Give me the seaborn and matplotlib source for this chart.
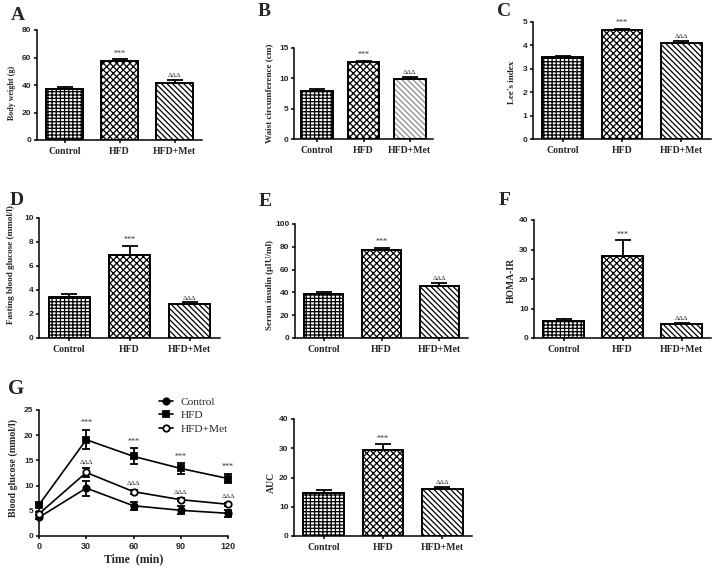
import numpy as np
import pandas as pd
import matplotlib
matplotlib.use('Agg')
import matplotlib.pyplot as plt
import seaborn as sns

# ---------------- data ----------------
groups = ['Control', 'HFD', 'HFD+Met']
sig_marks = ['', '***', 'ΔΔΔ']

body_weight = [37.1, 57.5, 41.8]
body_weight_err = [1.2, 1.2, 2.2]
waist = [7.95, 12.65, 9.85]
waist_err = [0.28, 0.22, 0.38]
lee_index = [3.51, 4.65, 4.11]
lee_index_err = [0.05, 0.06, 0.08]
fasting_glucose = [3.4, 6.95, 2.82]
fasting_glucose_err = [0.28, 0.72, 0.15]
insulin = [38.9, 76.9, 45.3]
insulin_err = [1.5, 2.0, 2.9]
homa_ir = [5.9, 27.9, 4.6]
homa_ir_err = [0.45, 5.3, 0.55]
auc = [14.7, 29.4, 16.0]
auc_err = [0.9, 2.0, 0.9]

time_min = [0, 30, 60, 90, 120]
ogtt_control = [3.7, 9.5, 6.0, 5.1, 4.5]
ogtt_control_err = [0.4, 1.5, 0.8, 0.8, 0.7]
ogtt_hfd = [6.2, 19.1, 15.8, 13.4, 11.4]
ogtt_hfd_err = [0.4, 1.9, 1.6, 1.0, 0.9]
ogtt_met = [4.4, 12.6, 8.8, 7.2, 6.3]
ogtt_met_err = [0.3, 0.8, 0.4, 0.3, 0.3]
ogtt_hfd_marks = ['', '***', '***', '***', '***']
ogtt_met_marks = ['', 'ΔΔΔ', 'ΔΔΔ', 'ΔΔΔ', 'ΔΔΔ']

# ---------------- style ----------------
sns.set_theme(style='ticks')
plt.rcParams['font.family'] = ['Liberation Serif', 'DejaVu Serif']
plt.rcParams['hatch.linewidth'] = 0.9
plt.rcParams['axes.linewidth'] = 1.1

W, H = 716, 571
fig = plt.figure(figsize=(W / 100, H / 100), dpi=100)


def pos(l, r, t, b):
    return [l / W, 1 - b / H, (r - l) / W, (b - t) / H]


SERIF = 'Liberation Serif'
SANS = 'Liberation Sans'
hatches = ['-----||||', 'xxxxx', '\\\\\\\\\\\\']


def style_axes(ax, ymax, yticks):
    sns.despine(ax=ax)
    ax.set_ylim(0, ymax)
    ax.set_yticks(yticks)
    ax.tick_params(axis='both', which='major', direction='out', width=1.1,
                   length=2.5, color='black', pad=1.5)
    for t in ax.get_yticklabels():
        t.set_fontfamily(SANS)
        t.set_fontweight('bold')
        t.set_fontsize(6)
    for s in ax.spines.values():
        s.set_color('black')
    ax.grid(False)
    ax.set_facecolor('white')


def set_ylabel(ax, text, xpix, ypix, size):
    ax.set_ylabel(text, fontsize=size, fontweight='bold', family=SERIF)
    ax.yaxis.set_label_coords(xpix / W, 1 - ypix / H, transform=fig.transFigure)
    ax.yaxis.label.set_va('center')


def bar_panel(rect, values, errs, ymax, yticks, ylabel, lab_xy, lab_size,
              letter, letter_xy, met_hatch_color='black'):
    ax = fig.add_axes(pos(*rect))
    df = pd.DataFrame({'group': groups, 'value': values})
    sns.barplot(data=df, x='group', y='value', ax=ax, color='white',
                width=0.68, errorbar=None, edgecolor='black', linewidth=1.4,
                zorder=3)
    for i, p in enumerate(ax.patches):
        p.set_hatch(hatches[i])
        p.set_facecolor('white')
        if i == 2 and met_hatch_color != 'black':
            p.set_edgecolor(met_hatch_color)
            ax.bar(i, values[i], width=0.68, fill=False, edgecolor='black',
                   linewidth=1.4, zorder=4)
    ax.errorbar(range(3), values, yerr=[np.zeros(3), errs], fmt='none',
                ecolor='black', elinewidth=1.3, capsize=5.5, capthick=1.3,
                zorder=2)
    for i, m in enumerate(sig_marks):
        if m:
            ax.annotate(m, (i, values[i] + errs[i]), xytext=(0, 1.2),
                        textcoords='offset points', ha='center', va='bottom',
                        fontsize=5.8 if m == '***' else 5, family=SERIF)
    ax.set_xlim(-0.5, 2.5)
    style_axes(ax, ymax, yticks)
    ax.set_xlabel('')
    ax.set_xticks(range(3))
    ax.set_xticklabels(groups, fontsize=7, fontweight='bold', family=SERIF)
    ax.tick_params(axis='x', pad=2.5)
    set_ylabel(ax, ylabel, lab_xy[0], lab_xy[1], lab_size)
    if letter:
        fig.text(letter_xy[0] / W, 1 - letter_xy[1] / H, letter, fontsize=14,
                 fontweight='bold', family=SERIF, ha='center', va='center')
    return ax


bar_panel((37, 202, 30, 140), body_weight, body_weight_err, 80, [0, 20, 40, 60, 80],
          'Body weight (g)', (12.5, 92.5), 5.8, 'A', (18, 15))
bar_panel((294, 433, 48, 139), waist, waist_err, 15, [0, 5, 10, 15],
          'Waist circumference (cm)', (269, 93), 6.6, 'B', (264, 12),
          met_hatch_color='0.55')
bar_panel((533, 711, 22, 139), lee_index, lee_index_err, 5, [0, 1, 2, 3, 4, 5],
          "Lee's index", (511.5, 82), 6.6, 'C', (504, 12))
bar_panel((39, 220, 218, 338), fasting_glucose, fasting_glucose_err, 10,
          [0, 2, 4, 6, 8, 10], 'Fasting blood glucose (mmol/l)', (11, 265), 6.6,
          'D', (17, 201))
bar_panel((295, 468, 224, 338), insulin, insulin_err, 100, [0, 20, 40, 60, 80, 100],
          'Serum insulin (μIU/ml)', (269.5, 285), 6.6, 'E', (265, 202))
bar_panel((534, 711, 220, 338), homa_ir, homa_ir_err, 40, [0, 10, 20, 30, 40],
          'HOMA-IR', (511.5, 280), 6.9, 'F', (505, 201))
bar_panel((294, 472, 419, 536), auc, auc_err, 40, [0, 10, 20, 30, 40],
          'AUC', (271, 482), 6.9, '', (0, 0))

# ---------------- panel G: OGTT ----------------
axg = fig.add_axes(pos(39, 228, 410, 536))
series = [
    ('Control', ogtt_control, ogtt_control_err, 'o', 'black'),
    ('HFD', ogtt_hfd, ogtt_hfd_err, 's', 'black'),
    ('HFD+Met', ogtt_met, ogtt_met_err, 'o', 'white'),
]
for name, vals, errs, mk, mfc in series:
    df = pd.DataFrame({'time': time_min, 'glucose': vals})
    sns.lineplot(data=df, x='time', y='glucose', ax=axg, color='black',
                 linewidth=1.2, marker=mk, markersize=4.6,
                 markerfacecolor=mfc, markeredgecolor='black',
                 markeredgewidth=1.3, label=name, clip_on=False, zorder=4)
    axg.errorbar(time_min, vals, yerr=errs, fmt='none', ecolor='black',
                 elinewidth=1.3, capsize=3.2, capthick=1.3, zorder=3,
                 clip_on=False)

for i, m in enumerate(ogtt_hfd_marks):
    if m:
        axg.annotate(m, (time_min[i], ogtt_hfd[i] + ogtt_hfd_err[i]),
                     xytext=(0, 2), textcoords='offset points', ha='center',
                     va='bottom', fontsize=5.8, family=SERIF)
for i, m in enumerate(ogtt_met_marks):
    if m:
        axg.annotate(m, (time_min[i], ogtt_met[i] + ogtt_met_err[i]),
                     xytext=(0, 2.5), textcoords='offset points', ha='center',
                     va='bottom', fontsize=5, family=SERIF)

axg.set_xlim(0, 120)
style_axes(axg, 25, [0, 5, 10, 15, 20, 25])
axg.set_xticks(time_min)
for t in axg.get_xticklabels():
    t.set_fontfamily(SANS)
    t.set_fontweight('bold')
    t.set_fontsize(6.5)
axg.set_xlabel('Time  (min)', fontsize=8.5, fontweight='bold', family=SERIF,
               labelpad=2)
set_ylabel(axg, 'Blood glucose (mmol/l)', 13.5, 468, 7.2)
leg = axg.legend(loc='upper left', bbox_to_anchor=(159 / W, 1 - 397 / H),
                 bbox_transform=fig.transFigure, frameon=False,
                 prop={'family': SERIF, 'size': 8.2}, handlelength=1.2,
                 handletextpad=0.7, labelspacing=0.3, borderpad=0,
                 borderaxespad=0)
fig.text(16 / W, 1 - 389 / H, 'G', fontsize=15, fontweight='bold',
         family=SERIF, ha='center', va='center')

fig.savefig('out.png', dpi=100, facecolor='white')
